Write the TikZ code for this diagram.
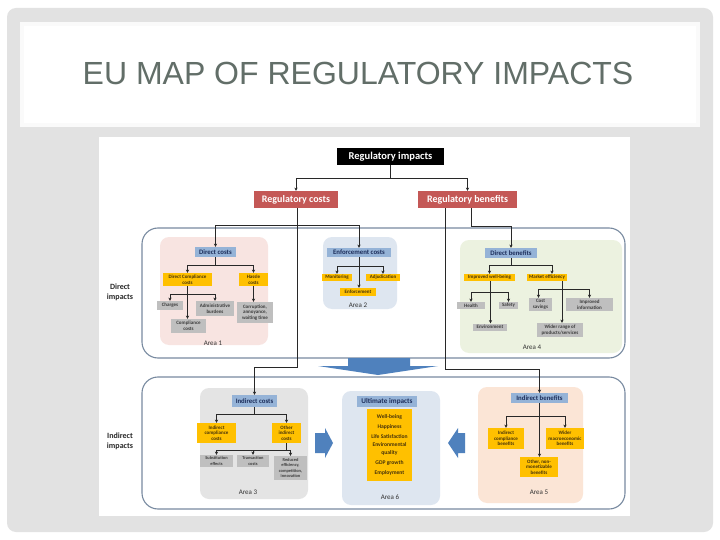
\documentclass[tikz,border=0pt]{standalone}
\usepackage{fontspec}
\setmainfont{Carlito}
\newfontfamily\titlefont{Liberation Sans}
\usetikzlibrary{arrows.meta}
\definecolor{framegray}{RGB}{226,226,226}
\definecolor{titlegray}{RGB}{98,110,104}
\definecolor{redbox}{RGB}{196,88,86}
\definecolor{bluebox}{RGB}{149,179,215}
\definecolor{navytext}{RGB}{28,45,90}
\definecolor{yellowbox}{RGB}{255,192,0}
\definecolor{yellowtext}{RGB}{70,50,10}
\definecolor{graybox}{RGB}{191,191,191}
\definecolor{graytext}{RGB}{60,60,60}
\definecolor{bigborder}{RGB}{120,138,160}
\definecolor{areapink}{RGB}{248,228,225}
\definecolor{areablue}{RGB}{222,230,240}
\definecolor{areagreen}{RGB}{236,242,224}
\definecolor{areagray}{RGB}{228,228,228}
\definecolor{areapeach}{RGB}{251,229,214}
\definecolor{arrowblue}{RGB}{79,129,189}
\definecolor{linecol}{RGB}{40,40,40}
\newcommand{\fs}[2]{\fontsize{#1}{#2}\selectfont}
\tikzset{
  basebox/.style={rectangle, inner sep=0pt, align=center, font=\bfseries},
  topbox/.style={basebox, fill=black, text=white, font=\bfseries\fs{10.5}{12}},
  redb/.style={basebox, fill=redbox, text=white, font=\bfseries\fs{10}{12}},
  blueb/.style={basebox, fill=bluebox, text=navytext, font=\bfseries\fs{6.8}{7.5}},
  yelb/.style={basebox, fill=yellowbox, text=yellowtext, font=\bfseries\fs{5}{5.6}},
  grayb/.style={basebox, fill=graybox, text=graytext, font=\bfseries\fs{5}{5.6}},
  areabg/.style={rounded corners=9pt, draw=none},
  bigbox/.style={draw=bigborder, line width=1.1pt, rounded corners=16pt, fill=white},
  conn/.style={draw=linecol, line width=0.9pt, -{Stealth[length=3.2pt,width=3.2pt]}},
  plainline/.style={draw=linecol, line width=0.9pt},
  arealabel/.style={font=\fs{7}{8}, text=black!80},
  sidelabel/.style={font=\bfseries\fs{8}{10}, align=center, text=black!85},
  blockarrow/.style={fill=arrowblue, draw=none}
}
\begin{document}
\begin{tikzpicture}[x=1pt,y=-1pt]
\useasboundingbox (0,0) rectangle (720,540);
\fill[white] (0,0) rectangle (720,540);
% frame
\fill[framegray, rounded corners=9pt] (7,8) rectangle (713,532);
\fill[white!96!gray] (20,22) rectangle (700,127);
\fill[white] (24,26) rectangle (696,123);
\node[font=\titlefont\fs{32}{36}, text=titlegray] (title) at (358,73) {EU MAP OF REGULATORY IMPACTS};
\fill[white] (99,137) rectangle (630,516);

% big boxes
\draw[bigbox] (142,228) rectangle (625,358);
\draw[bigbox] (142,377) rectangle (625,509);
\node[sidelabel] (dil) at (120,292) {Direct\\impacts};
\node[sidelabel] (iil) at (120,441) {Indirect\\impacts};

% area backgrounds
\fill[areabg, fill=areapink] (160,237) rectangle (268,345);
\fill[areabg, fill=areablue] (323,237) rectangle (397,309);
\fill[areabg, fill=areagreen] (460,240) rectangle (622,353);
\fill[areabg, fill=areagray] (200,388) rectangle (308,499);
\fill[areabg, fill=areablue] (342,391) rectangle (440,505);
\fill[areabg, fill=areapeach] (478,387) rectangle (583,503);

% block arrows
\fill[blockarrow] (348,358) -- (410,358) -- (410,366) -- (438,366) -- (378,375) -- (318,366) -- (348,366) -- cycle;
\fill[blockarrow] (315,433) -- (325,433) -- (325,428) -- (333,443) -- (325,458) -- (325,453) -- (315,453) -- cycle;
\fill[blockarrow] (465,433) -- (458,433) -- (458,428) -- (448,443) -- (458,458) -- (458,453) -- (465,453) -- cycle;

% top level
\node[topbox, minimum width=107, minimum height=17] (ri) at (390.5,156.5) {Regulatory impacts};
\node[redb, minimum width=84, minimum height=17] (rc) at (296,199.5) {Regulatory costs};
\node[redb, minimum width=99, minimum height=17] (rb) at (467.5,199.5) {Regulatory benefits};

% Area 1
\node[blueb, minimum width=41, minimum height=10] (dc) at (215.5,252) {Direct costs};
\node[yelb, minimum width=49, minimum height=13] (dcc) at (187.5,279.5) {Direct Compliance\\costs};
\node[yelb, minimum width=29, minimum height=13] (hc) at (253.5,279.5) {Hassle\\costs};
\node[grayb, minimum width=26, minimum height=9] (ch) at (170,305.5) {Charges};
\node[grayb, minimum width=38, minimum height=15] (ab) at (215,308.5) {Administrative\\burdens};
\node[grayb, minimum width=35, minimum height=14] (cc) at (188.5,326) {Compliance\\costs};
\node[grayb, minimum width=36, minimum height=21] (co) at (255,312.5) {Corruption,\\annoyance,\\waiting time};
\node[arealabel] (a1) at (213,343) {Area 1};

% Area 2
\node[blueb, minimum width=64, minimum height=9] (ec) at (359,252.5) {Enforcement costs};
\node[yelb, minimum width=30, minimum height=7] (mo) at (337,277.5) {Monitoring};
\node[yelb, minimum width=34, minimum height=7] (ad) at (383,277.5) {Adjudication};
\node[yelb, minimum width=36, minimum height=8] (en) at (358,292) {Enforcement};
\node[arealabel] (a2) at (358,305) {Area 2};

% Area 4
\node[blueb, minimum width=52, minimum height=10] (db) at (511,253) {Direct benefits};
\node[yelb, minimum width=51, minimum height=7] (iwb) at (489.5,277.5) {Improved well-being};
\node[yelb, minimum width=40, minimum height=7] (me) at (547,277.5) {Market efficiency};
\node[grayb, minimum width=28, minimum height=7] (he) at (471,305.5) {Health};
\node[grayb, minimum width=19, minimum height=7] (sa) at (508.5,305.5) {Safety};
\node[grayb, minimum width=34, minimum height=7] (env) at (490,327) {Environment};
\node[grayb, minimum width=23, minimum height=13] (cs) at (540.5,304.5) {Cost\\savings};
\node[grayb, minimum width=47, minimum height=13] (ii) at (589.5,304.5) {Improved\\information};
\node[grayb, minimum width=46, minimum height=14] (wr) at (560,330) {Wider range of\\products/services};
\node[arealabel] (a4) at (532,347) {Area 4};

% Area 3
\node[blueb, minimum width=45, minimum height=12] (ic) at (254.5,401) {Indirect costs};
\node[yelb, minimum width=39, minimum height=20] (icc) at (216.5,433) {Indirect\\compliance\\costs};
\node[yelb, minimum width=29, minimum height=20] (oic) at (286.5,433) {Other\\indirect\\costs};
\node[grayb, minimum width=33, minimum height=12, font=\bfseries\fs{4.4}{5.2}] (se) at (216.5,461) {Substitution\\effects};
\node[grayb, minimum width=32, minimum height=12, font=\bfseries\fs{4.4}{5.2}] (tc) at (253,461) {Transaction\\costs};
\node[grayb, minimum width=33, minimum height=24, font=\bfseries\fs{4.4}{5.2}] (re) at (290.5,468) {Reduced\\efficiency,\\competition,\\innovation};
\node[arealabel] (a3) at (248,492) {Area 3};

% Area 6
\node[blueb, minimum width=60, minimum height=11, font=\bfseries\fs{7.2}{8}] (ui) at (387,401.5) {Ultimate impacts};
\node[basebox, fill=yellowbox, text=yellowtext, minimum width=45, minimum height=72, font=\bfseries\fs{5.6}{10}] (ul) at (389.5,445) {Well-being\\Happiness\\Life Satisfaction\\[-2.2pt]Environmental\\[-2.2pt]quality\\GDP growth\\Employment};
\node[arealabel] (a6) at (390,497) {Area 6};

% Area 5
\node[blueb, minimum width=57, minimum height=10] (ib) at (539.5,398) {Indirect benefits};
\node[yelb, minimum width=36, minimum height=21] (icb) at (506,438.5) {Indirect\\compliance\\benefits};
\node[yelb, minimum width=38, minimum height=21] (wmb) at (565,438.5) {Wider\\macroeconomic\\benefits};
\node[yelb, minimum width=38, minimum height=20] (onm) at (539,467) {Other, non-\\monetizable\\benefits};
\node[arealabel] (a5) at (539,492) {Area 5};

% connectors: top
\draw[conn] (ri.south) -- (ri.south |- 0,178) -| (rc.north);
\draw[conn] (ri.south |- 0,178) -| (rb.north);
\coordinate (rcj) at ([xshift=1pt]rc.south |- 0,225);
\draw[conn] ([xshift=1pt]rc.south) -- ([xshift=1pt]rc.south |- 0,367) -| (ic.north);
\draw[conn] (rcj) -| (dc.north);
\draw[conn] (rcj) -| (ec.north);
\draw[conn] ([xshift=4pt]rb.south) |- (db.north |- 0,226) -- (db.north);
\draw[conn] ([xshift=-22pt]rb.south) |- (ib.north |- 0,369) -- (ib.north);

% Area 1 connectors
\coordinate (dcj) at (dc.south |- 0,265);
\draw[plainline] (dc.south) -- (dcj);
\draw[conn] (dcj) -| (dcc.north);
\draw[conn] (dcj) -| (hc.north);
\coordinate (dccj) at (dcc.south |- 0,294);
\draw[conn] (dcc.south) -- (dcc.south |- cc.north);
\draw[conn] (dccj) -| (ch.north);
\draw[conn] (dccj) -| (ab.north);
\draw[conn] (hc.south) -- (hc.south |- co.north);

% Area 2 connectors
\coordinate (ecj) at (ec.south |- 0,266);
\draw[conn] (ec.south) -- (ec.south |- en.north);
\draw[conn] (ecj) -| (mo.north);
\draw[conn] (ecj) -| (ad.north);

% Area 4 connectors
\coordinate (dbj) at (db.south |- 0,265);
\draw[plainline] (db.south) -- (dbj);
\draw[conn] (dbj) -| (iwb.north);
\draw[conn] (dbj) -| ([xshift=5pt]me.north);
\coordinate (iwbj) at ([xshift=1pt]iwb.south |- 0,292);
\draw[conn] ([xshift=1pt]iwb.south) -- ([xshift=1pt]iwb.south |- env.north);
\draw[conn] (iwbj) -| (he.north);
\draw[conn] (iwbj) -| (sa.north);
\coordinate (mej) at ([xshift=15pt]me.south |- 0,289);
\draw[conn] ([xshift=15pt]me.south) -- ([xshift=15pt]me.south |- wr.north);
\draw[conn] (mej) -| ([xshift=-2pt]cs.north);
\draw[conn] (mej) -| (ii.north);

% Area 3 connectors
\coordinate (icj) at (ic.south |- 0,414);
\draw[plainline] (ic.south) -- (icj);
\draw[conn] (icj) -| (icc.north);
\draw[conn] (icj) -| (oic.north);
\coordinate (oicj) at (oic.south |- 0,450);
\draw[plainline] (oic.south) -- (oicj);
\draw[conn] (oicj) -| (se.north);
\draw[conn] (oicj) -| (tc.north);
\draw[conn] (oicj) -| (re.north);

% Area 5 connectors
\coordinate (ibj) at (ib.south |- 0,416);
\draw[conn] (ib.south) -- (ib.south |- onm.north);
\draw[conn] (ibj) -| (icb.north);
\draw[conn] (ibj) -| (wmb.north);
\end{tikzpicture}
\end{document}
